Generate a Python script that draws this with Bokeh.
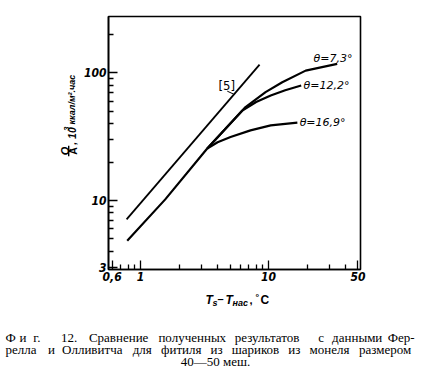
from bokeh.plotting import figure
from bokeh.models import Range1d, FixedTicker, Label
from bokeh.layouts import column, row
from bokeh.core.properties import value
from bokeh.embed import file_html
from bokeh.resources import INLINE

# ---------------- data ----------------
base_x = [0.787, 1.56, 3.32]
base_y = [4.83, 10.2, 25.5]

t73_x = [3.32, 4.61, 6.61, 9.48, 12.8, 19.5, 34.4]
t73_y = [25.5, 36.5, 53.9, 70.5, 84.4, 104.0, 117.6]

t122_x = [3.32, 4.61, 6.2, 8.0, 10.4, 13.5, 18.0]
t122_y = [25.5, 36.5, 50.3, 59.0, 66.5, 73.0, 79.6]

t169_x = [3.32, 4.0, 5.05, 7.23, 10.4, 16.8]
t169_y = [25.5, 28.6, 31.4, 35.4, 38.7, 40.7]

ref5_x = [0.778, 8.51]
ref5_y = [7.11, 116.0]

curve_labels = ["θ=7,3°", "θ=12,2°", "θ=16,9°"]
curve_label_x = [22.5, 18.8, 17.5]
curve_label_y = [129.0, 79.6, 40.8]

x_ticks = [0.6, 1, 10, 50]
x_tick_labels = ["0,6", "1", "10", "50"]
x_minor = [0.7, 0.8, 0.9, 2, 3, 4, 5, 6, 7, 8, 9, 20, 30, 40]
y_ticks = [3, 10, 100]
y_tick_labels = ["3", "10", "100"]
y_minor = [4, 5, 6, 7, 8, 9, 20, 30, 40, 50, 60, 70, 80, 90, 200]

caption_lines = [
    "Ф и г.  12. Сравнение полученных результатов с данными Фер-",
    "релла и Олливитча для фитиля из шариков из монеля размером",
]
caption_last = "40—50 меш."

# ---------------- layout ----------------
W, H = 428, 378
LW = 79            # width of the strip holding the y-axis title
MH = 288           # height of the chart row
FL, FR, FT, FB = 108, 360, 16, 269
NARROW = "Liberation Sans Narrow, DejaVu Sans Condensed, Liberation Sans"
AX = "Liberation Sans"


def blank(w, h):
    f = figure(width=w, height=h, x_range=Range1d(0, w), y_range=Range1d(0, h),
               output_backend="svg", toolbar_location=None,
               x_axis_location=None, y_axis_location=None, min_border=0)
    f.grid.visible = False
    f.outline_line_color = None
    f.background_fill_color = "white"
    f.border_fill_color = "white"
    return f


def tlabel(f, hgt, x, ytop, text, size="12px", font="Liberation Serif",
           style="normal", align="left", baseline="alphabetic", angle=0.0):
    f.add_layout(Label(x=x, y=hgt - ytop, text=text, text_font_size=size,
                       text_font=font, text_font_style=style, text_align=align,
                       text_baseline=baseline, angle=angle, text_color="black"))


# main chart
p = figure(width=W - LW, height=MH, x_axis_type="log", y_axis_type="log",
           x_range=Range1d(0.562, 52.3), y_range=Range1d(2.88, 276),
           output_backend="svg", toolbar_location=None,
           min_border_left=FL - LW, min_border_right=W - FR,
           min_border_top=FT, min_border_bottom=MH - FB)
p.grid.visible = False
p.outline_line_color = "black"
p.outline_line_width = 1.6
p.background_fill_color = "white"
p.border_fill_color = "white"

for ax, ticks, minor, labels in ((p.xaxis, x_ticks, x_minor, x_tick_labels),
                                 (p.yaxis, y_ticks, y_minor, y_tick_labels)):
    ax.ticker = FixedTicker(ticks=ticks, minor_ticks=minor)
    ax.major_label_overrides = {t: l for t, l in zip(ticks, labels)}
    ax.axis_line_width = 1.6
    ax.major_tick_in = 9
    ax.major_tick_out = 0
    ax.minor_tick_in = 5
    ax.minor_tick_out = 0
    ax.major_tick_line_width = 1.3
    ax.minor_tick_line_width = 1.3
    ax.major_label_text_font = NARROW
    ax.major_label_text_font_style = "bold italic"
    ax.major_label_text_font_size = "12px"
    ax.major_label_text_color = "black"
p.xaxis.major_label_standoff = 2
p.yaxis.major_label_standoff = 2

p.line(base_x, base_y, line_color="black", line_width=2.2, line_join="round")
for xs, ys in ((t73_x, t73_y), (t122_x, t122_y), (t169_x, t169_y)):
    p.line(xs, ys, line_color="black", line_width=2.2, line_join="round")
p.line(ref5_x, ref5_y, line_color="black", line_width=1.8)

p.text(x=curve_label_x, y=curve_label_y, text=curve_labels,
       text_font=value("DejaVu Sans"), text_font_style="italic",
       text_font_size="11px", text_baseline="middle", text_align="left",
       text_color="black")

p.add_layout(Label(x=4.07, y=79.6, text="[5]", text_font=NARROW,
                   text_font_size="13px", text_baseline="middle",
                   text_color="black"))
p.line([4.76, 5.35], [71.8, 68.0], line_color="black", line_width=1.0)

# y-axis title strip: Q/A, 10^3 ккал/м².час (rotated)
yt = blank(LW, MH)
ANG = 1.5707963
tlabel(yt, MH, 64.5, 153, "Q", "11px", AX, "bold italic", "center", "middle", ANG)
tlabel(yt, MH, 72.0, 153, "A", "10.5px", AX, "bold", "center", "middle", ANG)
yt.segment(x0=[68.2], y0=[MH - 159], x1=[68.2], y1=[MH - 147],
           line_color="black", line_width=1.4)
tlabel(yt, MH, 71.0, 146, ", 10", "10.5px", AX, "bold italic", "left", "middle", ANG)
tlabel(yt, MH, 66.0, 130, "3", "7.5px", AX, "bold italic", "left", "middle", ANG)
tlabel(yt, MH, 71.5, 123, "ккал/м².час", "9px", AX, "bold italic", "left", "middle", ANG)

# bottom strip: x-axis title and caption
BH = H - MH
bt = blank(W, BH)
o = MH
tlabel(bt, BH, 205, 299 - o, "T", "12px", AX, "bold italic")
tlabel(bt, BH, 212, 302 - o, "s", "9px", AX, "bold italic")
tlabel(bt, BH, 217, 298 - o, "–", "11px", AX, "bold")
tlabel(bt, BH, 225, 299 - o, "T", "12px", AX, "bold italic")
tlabel(bt, BH, 232, 302 - o, "нас", "9px", AX, "bold italic")
tlabel(bt, BH, 249, 299 - o, ",", "11px", AX, "bold")
tlabel(bt, BH, 255, 296 - o, "°", "9px", AX, "bold")
tlabel(bt, BH, 260, 299 - o, "C", "12px", AX, "bold")

left, right = 5, 415
for i, line in enumerate(caption_lines):
    total = len(line)
    pos = 0
    for w in line.split():
        idx = line.index(w, pos)
        x = left + (right - left) * idx / total
        tlabel(bt, BH, x, 337 + 12 * i - o, w, "13px", "Liberation Serif")
        pos = idx + len(w)
tlabel(bt, BH, 215, 361 - o, caption_last, "13px", "Liberation Serif", "normal", "center")

layout = column(row(yt, p, spacing=0), bt, spacing=0)
open("out.html", "w").write(file_html(layout, INLINE))
